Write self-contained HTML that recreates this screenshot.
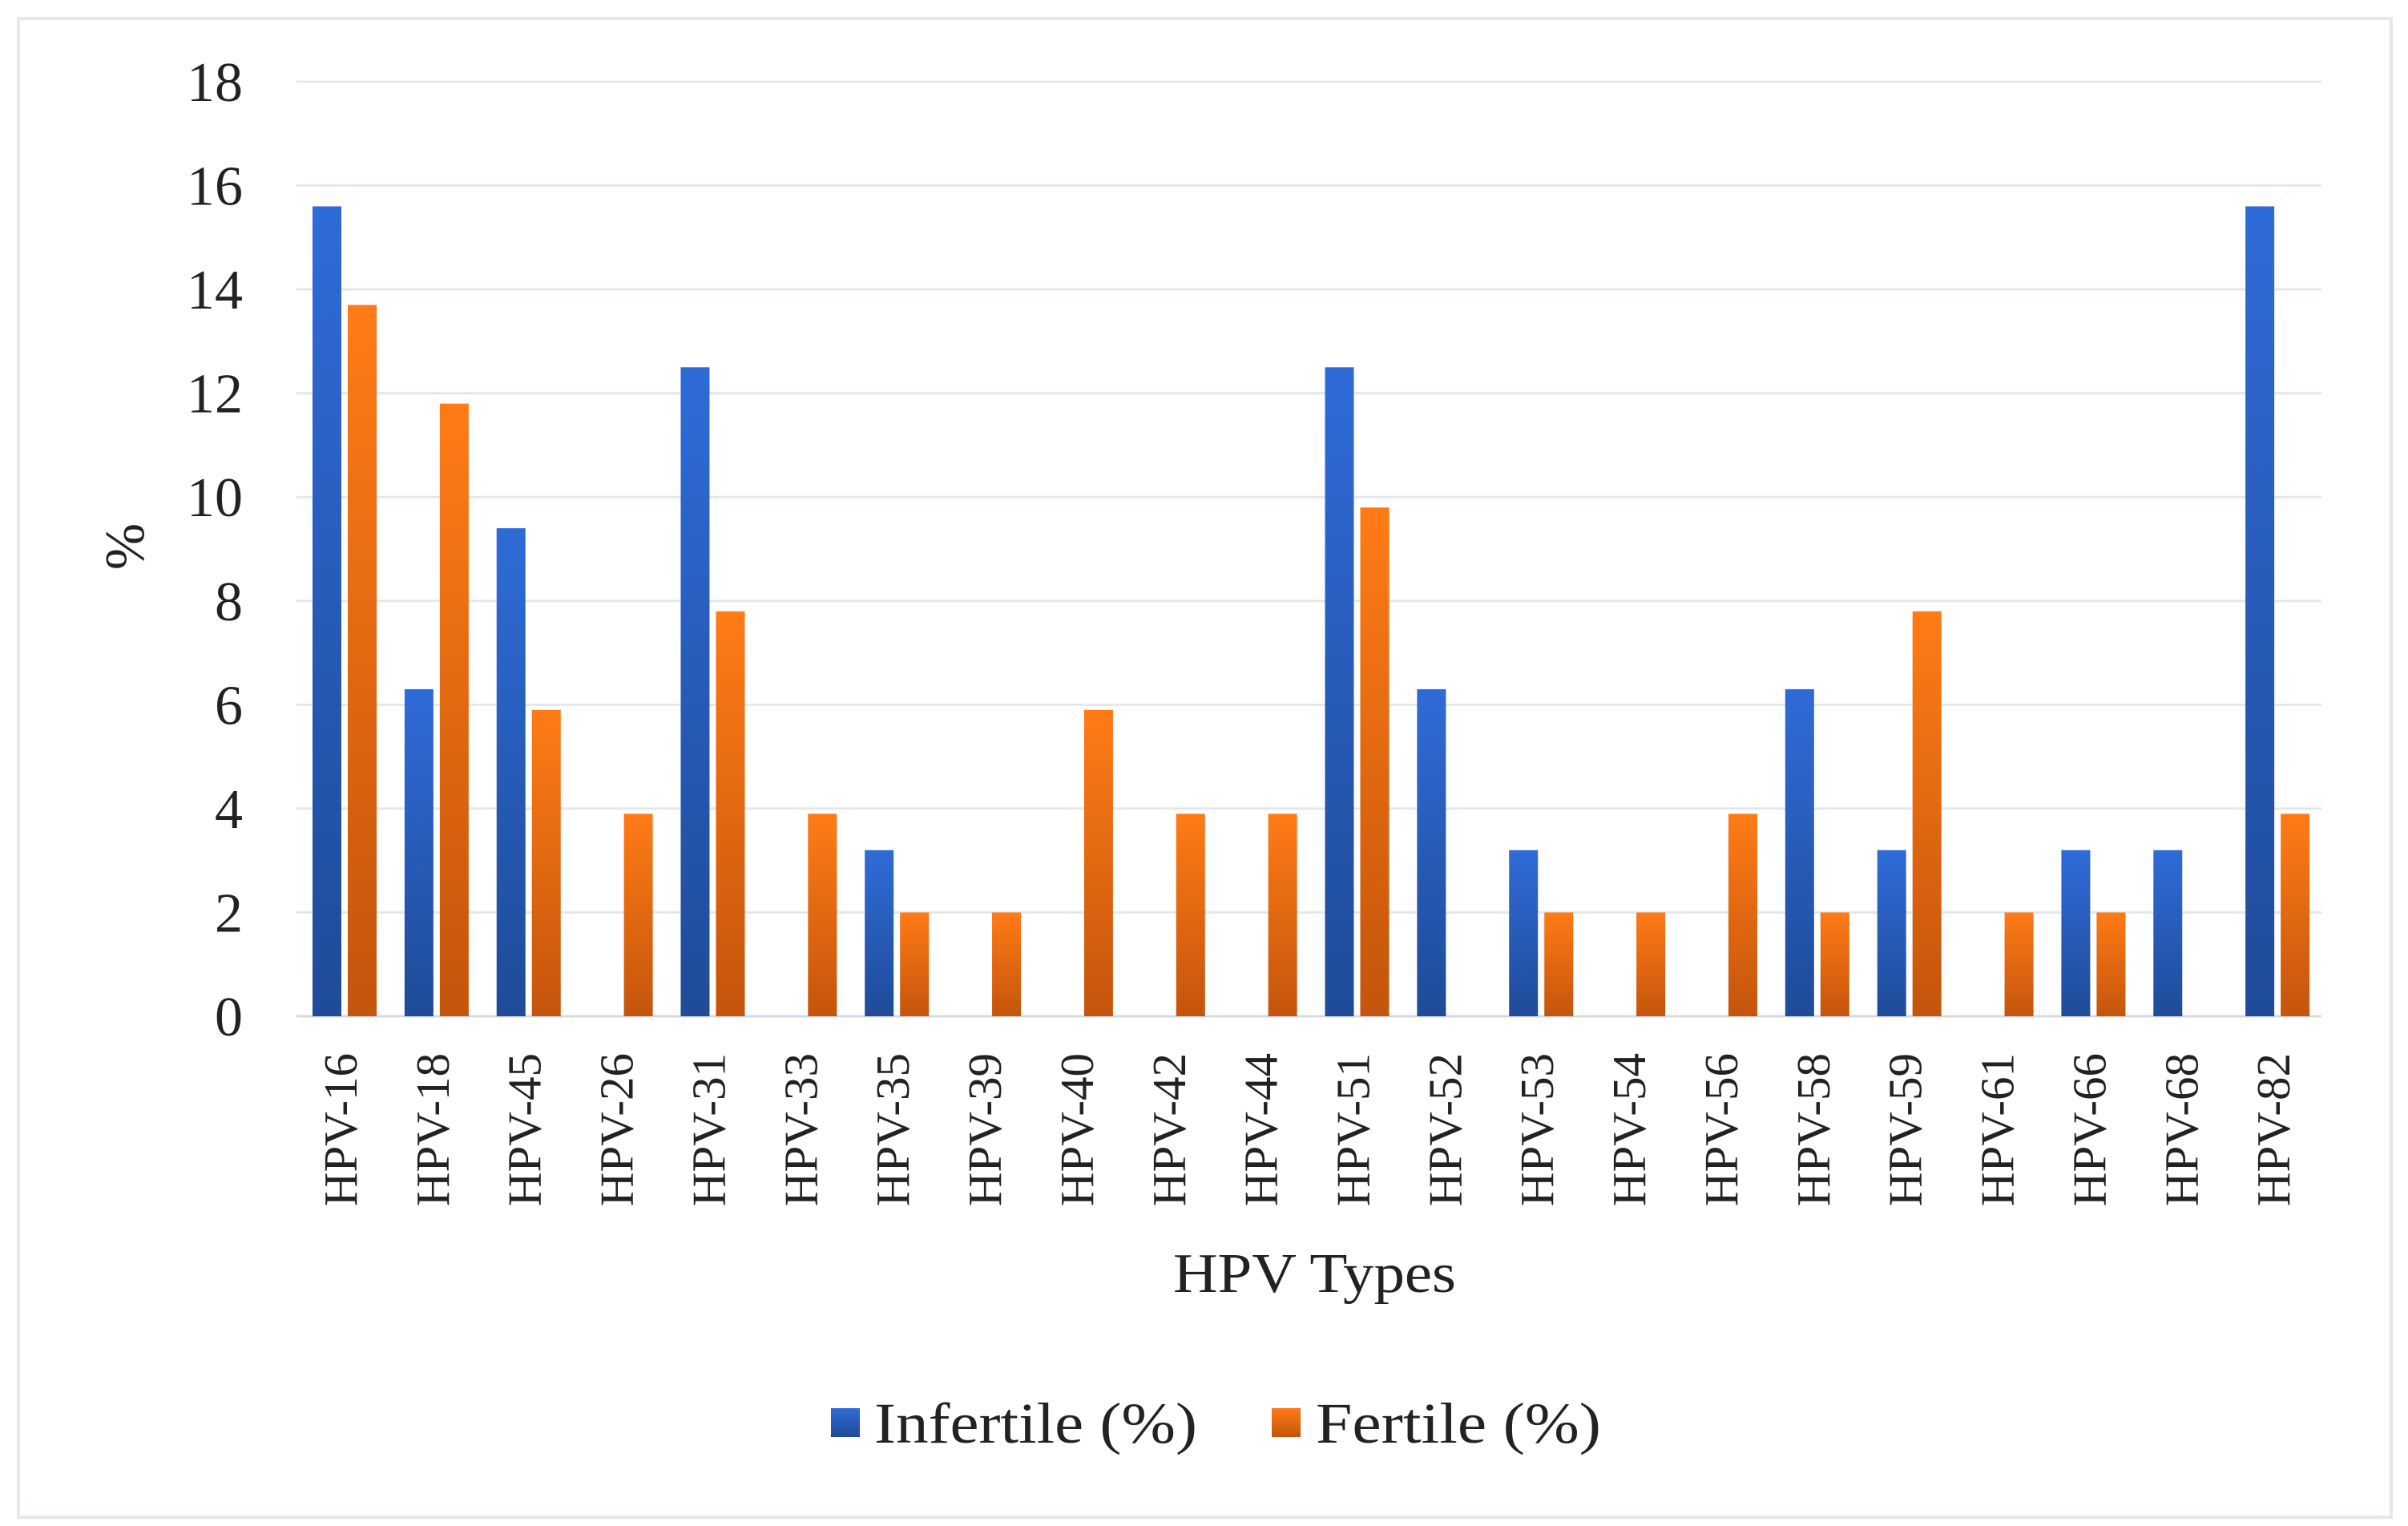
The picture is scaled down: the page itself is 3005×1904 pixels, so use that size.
<!DOCTYPE html>
<html><head><meta charset="utf-8"><style>
html,body{margin:0;padding:0;background:#fff;}
svg{display:block;font-family:"Liberation Serif",serif;}
</style></head><body>
<svg id="chart" width="3005" height="1904" viewBox="0 0 3005 1904">
<defs>
<linearGradient id="gb" x1="0" y1="0" x2="0" y2="1"><stop offset="0" stop-color="#2f6bd8"/><stop offset="1" stop-color="#1f4b98"/></linearGradient>
<linearGradient id="go" x1="0" y1="0" x2="0" y2="1"><stop offset="0" stop-color="#ff7b16"/><stop offset="1" stop-color="#c4550c"/></linearGradient>
</defs>
<rect x="23" y="23" width="2961" height="1870" fill="#fff" stroke="#e3e7ee" stroke-width="4"/>
<g id="grid"></g>
<g id="bars"></g>
<g id="ylabels"></g>
<g id="xlabels"></g>
<text x="163" y="682" font-size="70" fill="#222" text-anchor="middle" transform="rotate(-90 163 682)" dominant-baseline="middle">%</text>
<text x="1464" y="1612" font-size="70" fill="#222" textLength="353" lengthAdjust="spacingAndGlyphs">HPV Types</text>
<g>
<rect x="1037" y="1757" width="36" height="36" fill="url(#gb)"/>
<text x="1091" y="1800" font-size="72" fill="#222" textLength="403" lengthAdjust="spacingAndGlyphs">Infertile (%)</text>
<rect x="1587" y="1757" width="36" height="36" fill="url(#go)"/>
<text x="1642" y="1800" font-size="72" fill="#222" textLength="356" lengthAdjust="spacingAndGlyphs">Fertile (%)</text>
</g>
</svg>
<script>
const categories = ["HPV-16","HPV-18","HPV-45","HPV-26","HPV-31","HPV-33","HPV-35","HPV-39","HPV-40","HPV-42","HPV-44","HPV-51","HPV-52","HPV-53","HPV-54","HPV-56","HPV-58","HPV-59","HPV-61","HPV-66","HPV-68","HPV-82"];
const infertile = [15.6,6.3,9.4,0,12.5,0,3.2,0,0,0,0,12.5,6.3,3.2,0,0,6.3,3.2,0,3.2,3.2,15.6];
const fertile = [13.7,11.8,5.9,3.9,7.8,3.9,2.0,2.0,5.9,3.9,3.9,9.8,0,2.0,2.0,3.9,2.0,7.8,2.0,2.0,0,3.9];
const yTicks = [0,2,4,6,8,10,12,14,16,18];

const NS = "http://www.w3.org/2000/svg";
const plotL = 370, plotR = 2897, y0 = 1268, yTop = 102, yMax = 18;
const band = (plotR - plotL) / categories.length;
function yScale(v){ return y0 - (v / yMax) * (y0 - yTop); }
function xScale(i){ return plotL + i * band; }
function mk(tag, attrs){ const e = document.createElementNS(NS, tag); for (const k in attrs) e.setAttribute(k, attrs[k]); return e; }

const grid = document.getElementById('grid');
const yl = document.getElementById('ylabels');
yTicks.forEach(t => {
  const ln = mk('line', {x1: plotL, x2: plotR, y1: yScale(t), y2: yScale(t), stroke: t === 0 ? '#d6dbe3' : '#e4e8ee', 'stroke-width': 3});
  
  
  grid.appendChild(ln);
  const tx = mk('text', {x: 303, y: yScale(t) + 24, 'font-size': 70, fill: '#222', 'text-anchor': 'end'});
  tx.textContent = t;
  
  
  yl.appendChild(tx);
});

const bars = document.getElementById('bars');
const xl = document.getElementById('xlabels');
const bw = 36;
categories.forEach((c, i) => {
  const x = xScale(i);
  if (infertile[i] > 0) {
    const r = mk('rect', {x: x + 20, y: yScale(infertile[i]), width: bw, height: y0 - yScale(infertile[i]), fill: 'url(#gb)'});
    
    
    bars.appendChild(r);
  }
  if (fertile[i] > 0) {
    const r = mk('rect', {x: x + 64, y: yScale(fertile[i]), width: bw, height: y0 - yScale(fertile[i]), fill: 'url(#go)'});
    
    
    bars.appendChild(r);
  }
  const cx = x + band / 2 + 4, ty = 1314;
  const t = mk('text', {x: cx, y: ty, 'font-size': 59, fill: '#222', 'text-anchor': 'end', 'dominant-baseline': 'middle', transform: 'rotate(-90 ' + cx + ' ' + ty + ')'});
  t.textContent = c;
  
  
  xl.appendChild(t);
});
</script>
</body></html>
